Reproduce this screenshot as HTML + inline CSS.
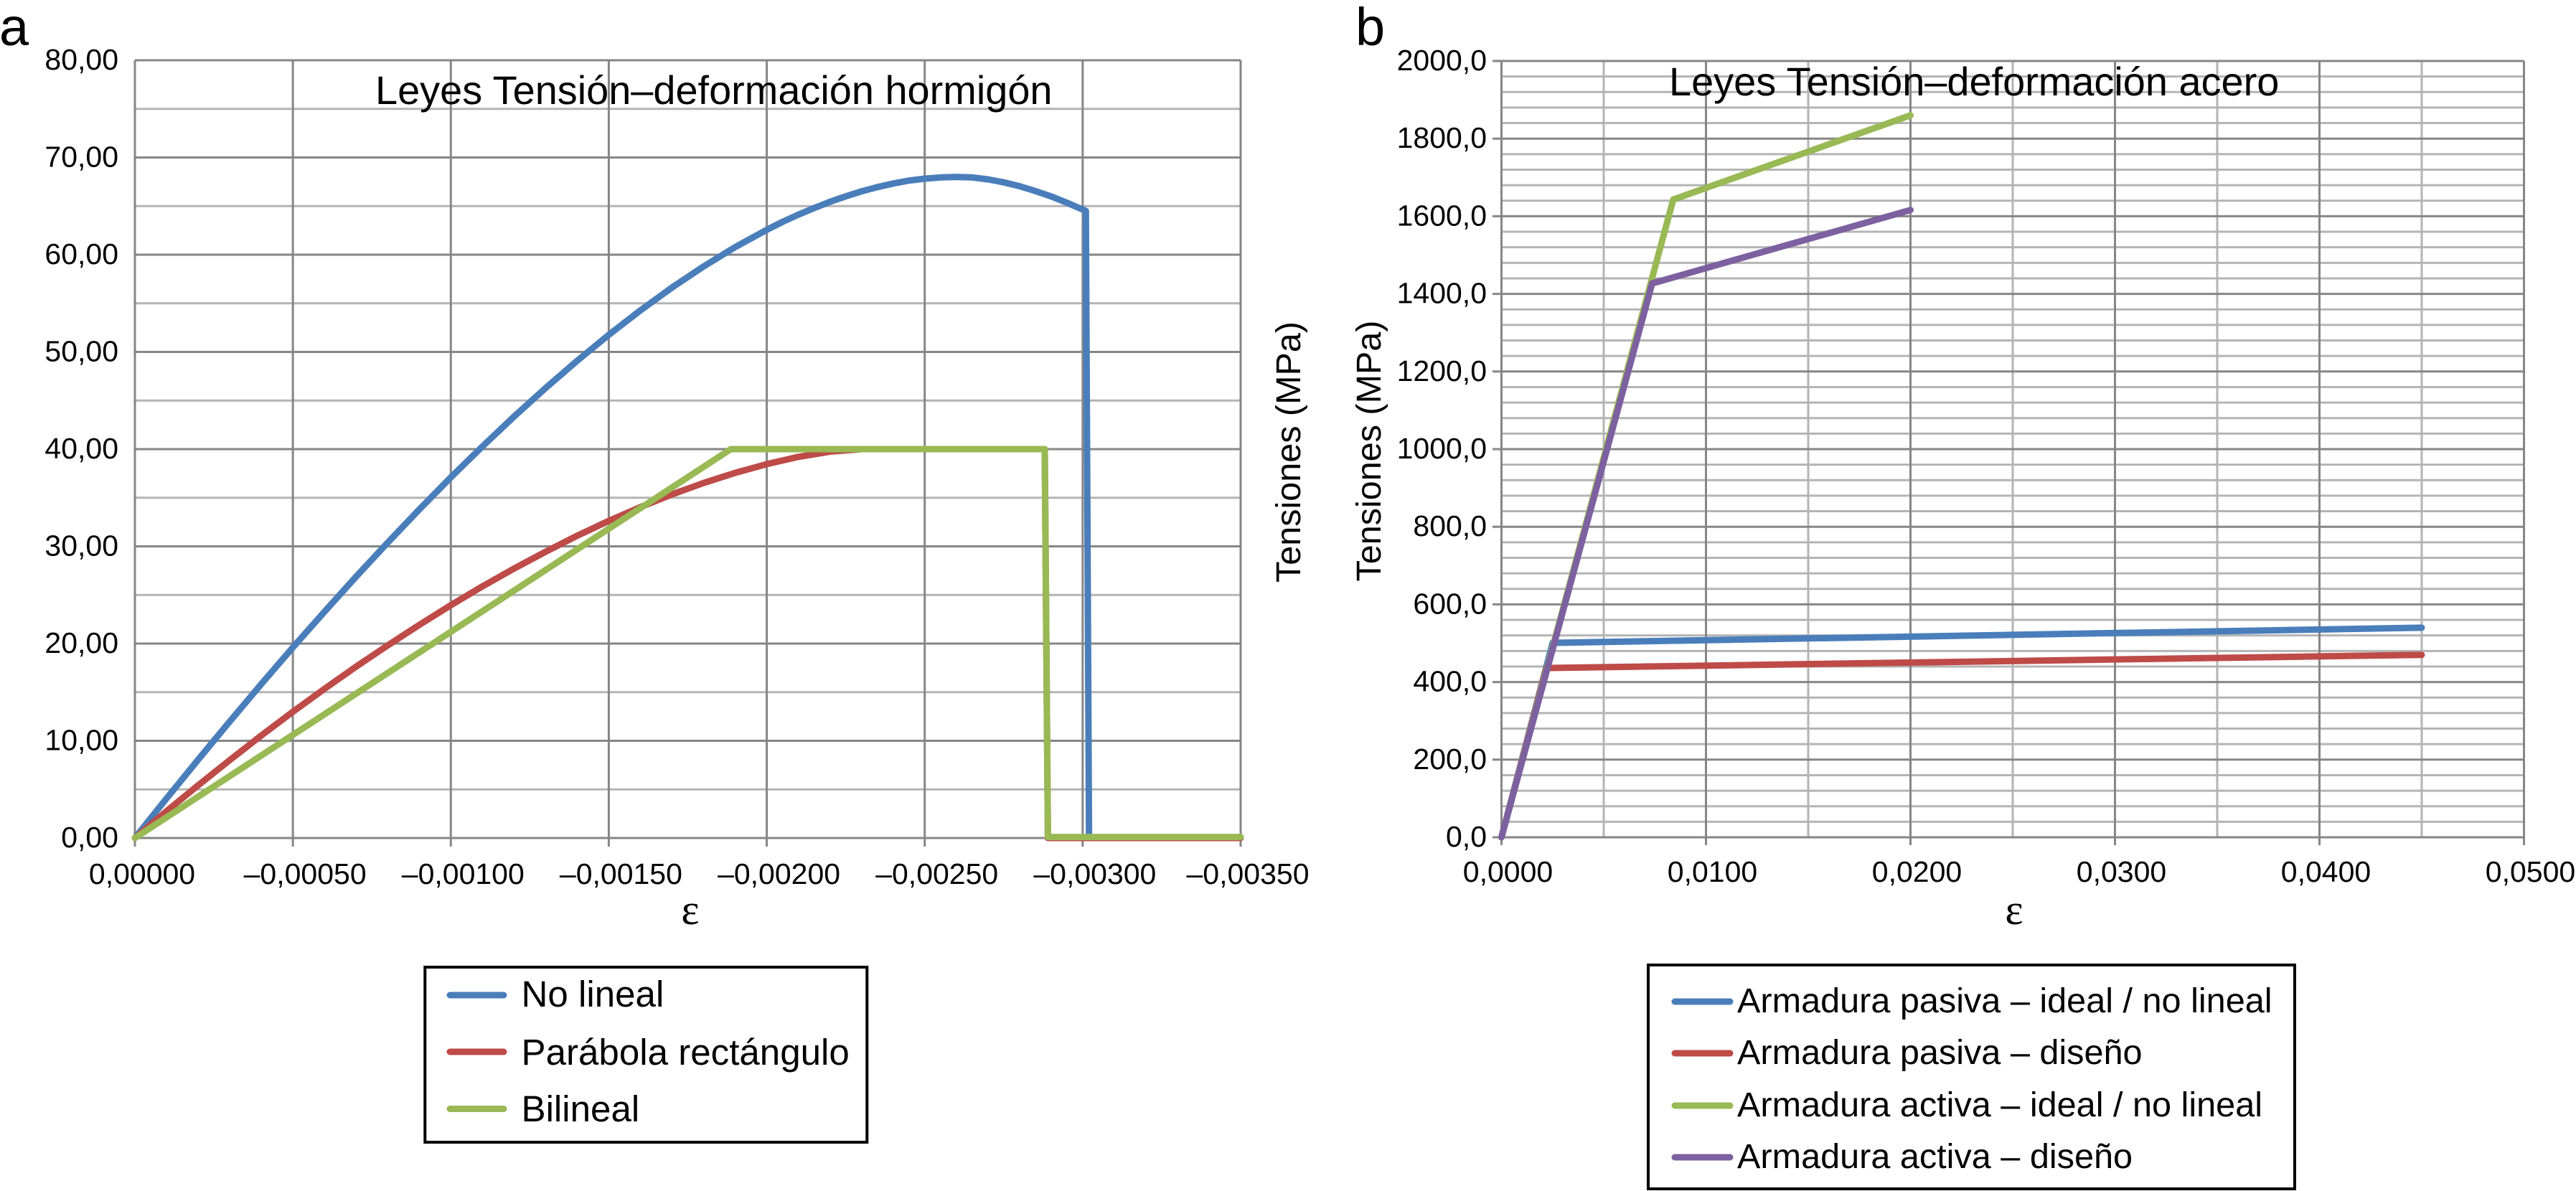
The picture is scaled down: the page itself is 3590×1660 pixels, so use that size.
<!DOCTYPE html>
<html lang="es">
<head>
<meta charset="utf-8">
<title>Leyes Tensión–deformación</title>
<style>
html,body{margin:0;padding:0;background:#fff;width:3590px;height:1660px;overflow:hidden}
svg{display:block;font-family:"Liberation Sans",Arial,sans-serif;fill:#000}
</style>
</head>
<body>
<svg id="figure" xmlns="http://www.w3.org/2000/svg" width="3590" height="1660" viewBox="0 0 3590 1660">
  <rect x="0" y="0" width="3590" height="1660" fill="#fff"/>
  <g id="chartA"></g>
  <g id="chartB"></g>

  <text x="-1" y="63" font-size="74">a</text>
  <text x="1889" y="63" font-size="74">b</text>

  <text x="523" y="145" font-size="55.9">Leyes Tensión–deformación hormigón</text>
  <text x="2326" y="133" font-size="55.9">Leyes Tensión–deformación acero</text>

  <text transform="translate(1812 630) rotate(-90)" text-anchor="middle" font-size="48.5">Tensiones (MPa)</text>
  <text transform="translate(1924 628.5) rotate(-90)" text-anchor="middle" font-size="48.5">Tensiones (MPa)</text>

  <text x="962" y="1288" text-anchor="middle" font-size="60" style="font-family:'Liberation Serif',serif">ε</text>
  <text x="2807" y="1288" text-anchor="middle" font-size="60" style="font-family:'Liberation Serif',serif">ε</text>

  <g>
    <rect x="592.3" y="1348" width="616" height="244" fill="#fff" stroke="#000" stroke-width="4"/>
    <line x1="627" x2="702" y1="1387" y2="1387" stroke="#4a7ebb" stroke-width="9" stroke-linecap="round"/>
    <text x="726.5" y="1403" font-size="51.1">No lineal</text>
    <line x1="627" x2="702" y1="1466" y2="1466" stroke="#be4b48" stroke-width="9" stroke-linecap="round"/>
    <text x="726.5" y="1484" font-size="51.1">Parábola rectángulo</text>
    <line x1="627" x2="702" y1="1545.5" y2="1545.5" stroke="#98b954" stroke-width="9" stroke-linecap="round"/>
    <text x="726.5" y="1563" font-size="51.1">Bilineal</text>
  </g>

  <g>
    <rect x="2297" y="1345" width="901" height="312" fill="#fff" stroke="#000" stroke-width="4"/>
    <line x1="2334" x2="2411" y1="1396" y2="1396" stroke="#4a7ebb" stroke-width="9" stroke-linecap="round"/>
    <text x="2421" y="1411" font-size="48.6">Armadura pasiva – ideal / no lineal</text>
    <line x1="2334" x2="2411" y1="1468" y2="1468" stroke="#be4b48" stroke-width="9" stroke-linecap="round"/>
    <text x="2421" y="1483" font-size="48.6">Armadura pasiva – diseño</text>
    <line x1="2334" x2="2411" y1="1541" y2="1541" stroke="#98b954" stroke-width="9" stroke-linecap="round"/>
    <text x="2421" y="1556" font-size="48.6">Armadura activa – ideal / no lineal</text>
    <line x1="2334" x2="2411" y1="1613" y2="1613" stroke="#7d60a0" stroke-width="9" stroke-linecap="round"/>
    <text x="2421" y="1628" font-size="48.6">Armadura activa – diseño</text>
  </g>
</svg>
<script>
/* Panel a: concrete */
const concreteXTicks = [0, -0.0005, -0.001, -0.0015, -0.002, -0.0025, -0.003, -0.0035];
const concreteXLabels = ['0,00000', '–0,00050', '–0,00100', '–0,00150', '–0,00200', '–0,00250', '–0,00300', '–0,00350'];
const concreteYTicks = [0, 10, 20, 30, 40, 50, 60, 70, 80];
const concreteYLabels = ['0,00', '10,00', '20,00', '30,00', '40,00', '50,00', '60,00', '70,00', '80,00'];
const concreteYMinor = [5, 15, 25, 35, 45, 55, 65, 75];

const noLinealX = [0, -0.0001, -0.0002, -0.0003, -0.0004, -0.0005, -0.0006, -0.0007, -0.0008, -0.0009, -0.001, -0.0011, -0.0012, -0.0013, -0.0014, -0.0015, -0.0016, -0.0017, -0.0018, -0.0019, -0.002, -0.00205, -0.0021, -0.00215, -0.0022, -0.00225, -0.0023, -0.00235, -0.0024, -0.00245, -0.0025, -0.00255, -0.0026, -0.00265, -0.0027, -0.00275, -0.0028, -0.00285, -0.0029, -0.00295, -0.00301, -0.00302];
const noLinealY = [0, 4.06, 8.05, 11.98, 15.83, 19.6, 23.28, 26.88, 30.38, 33.79, 37.1, 40.27, 43.34, 46.29, 49.09, 51.76, 54.27, 56.62, 58.79, 60.78, 62.56, 63.38, 64.12, 64.8, 65.44, 66, 66.52, 66.95, 67.32, 67.62, 67.82, 67.95, 68, 67.95, 67.75, 67.45, 67.05, 66.55, 66, 65.35, 64.5, 0];

const parabolaX = [0, -0.0001, -0.0002, -0.0003, -0.0004, -0.0005, -0.0006, -0.0007, -0.0008, -0.0009, -0.001, -0.0011, -0.0012, -0.0013, -0.0014, -0.0015, -0.0016, -0.0017, -0.0018, -0.0019, -0.002, -0.0021, -0.0022, -0.0023, -0.00288, -0.00289, -0.0035];
const parabolaY = [0, 2.75, 5.42, 8.01, 10.54, 12.98, 15.34, 17.62, 19.81, 21.92, 23.95, 25.88, 27.71, 29.45, 31.09, 32.62, 34.04, 35.34, 36.52, 37.56, 38.46, 39.2, 39.74, 40, 40, 0, 0];

const bilinealX = [0, -0.001886, -0.00288, -0.00289, -0.0035];
const bilinealY = [0, 40, 40, 0.1, 0.1];

/* Panel b: steel */
const steelXTicks = [0, 0.01, 0.02, 0.03, 0.04, 0.05];
const steelXLabels = ['0,0000', '0,0100', '0,0200', '0,0300', '0,0400', '0,0500'];
const steelXMinor = [0.005, 0.015, 0.025, 0.035, 0.045];
const steelYTicks = [0, 200, 400, 600, 800, 1000, 1200, 1400, 1600, 1800, 2000];
const steelYLabels = ['0,0', '200,0', '400,0', '600,0', '800,0', '1000,0', '1200,0', '1400,0', '1600,0', '1800,0', '2000,0'];
const steelYMinor = [40, 80, 120, 160, 240, 280, 320, 360, 440, 480, 520, 560, 640, 680, 720, 760, 840, 880, 920, 960, 1040, 1080, 1120, 1160, 1240, 1280, 1320, 1360, 1440, 1480, 1520, 1560, 1640, 1680, 1720, 1760, 1840, 1880, 1920, 1960];

const pasivaIdealX = [0, 0.0025, 0.045];
const pasivaIdealY = [0, 501, 540];
const pasivaDisenoX = [0, 0.0022, 0.045];
const pasivaDisenoY = [0, 436, 470];
const activaIdealX = [0, 0.0084, 0.02];
const activaIdealY = [0, 1643, 1860];
const activaDisenoX = [0, 0.00737, 0.02];
const activaDisenoY = [0, 1427, 1616];

const SVGNS = 'http://www.w3.org/2000/svg';
const MAJOR = '#868686', MINOR = '#b4b4b4';

function xA(v) { return 188 + (-v / 0.0035) * 1541; }
function yA(v) { return 1168 - (v / 80) * 1084; }
function xB(v) { return 2092.5 + (v / 0.05) * 1425; }
function yB(v) { return 1167 - (v / 2000) * 1082; }

function rule(parent, x1, y1, x2, y2, color) {
  const el = document.createElementNS(SVGNS, 'line');
  el.setAttribute('x1', x1);
  el.setAttribute('y1', y1);
  el.setAttribute('x2', x2);
  el.setAttribute('y2', y2);
  el.setAttribute('stroke', color);
  el.setAttribute('stroke-width', 3);
  parent.appendChild(el);
  return el;
}
function label(parent, x, y, str, anchor) {
  const el = document.createElementNS(SVGNS, 'text');
  el.setAttribute('x', x);
  el.setAttribute('y', y);
  el.setAttribute('font-size', 41);
  el.setAttribute('text-anchor', anchor);
  el.textContent = str;
  parent.appendChild(el);
  return el;
}
function series(parent, xs, ys, fx, fy, color) {
  const el = document.createElementNS(SVGNS, 'polyline');
  el.setAttribute('points', xs.map((v, i) => fx(v).toFixed(1) + ',' + fy(ys[i]).toFixed(1)).join(' '));
  el.setAttribute('fill', 'none');
  el.setAttribute('stroke', color);
  el.setAttribute('stroke-width', 9);
  el.setAttribute('stroke-linejoin', 'round');
  el.setAttribute('stroke-linecap', 'round');
  parent.appendChild(el);
  return el;
}

/* ---------- Chart A ---------- */
const gA = document.getElementById('chartA');
concreteYMinor.forEach(v => {
  const el = rule(gA, xA(0), yA(v), xA(-0.0035), yA(v), MINOR);
  
  
});
concreteYTicks.forEach((v, i) => {
  const el = rule(gA, xA(0), yA(v), xA(-0.0035), yA(v), MAJOR);
  
  
  const t = label(gA, 165, yA(v) + 13, concreteYLabels[i], 'end');
  
  
});
concreteXTicks.forEach((v, i) => {
  const el = rule(gA, xA(v), yA(80), xA(v), 1180, MAJOR);
  
  
  const shift = (i === 0 || i === concreteXTicks.length - 1) ? 10 : 17;
  const t = label(gA, xA(v) + shift, 1232, concreteXLabels[i], 'middle');
  
  
});
const sNoLineal = series(gA, noLinealX, noLinealY, xA, yA, '#4a7ebb');


const sParabola = series(gA, parabolaX, parabolaY, xA, yA, '#be4b48');


const sBilineal = series(gA, bilinealX, bilinealY, xA, yA, '#98b954');



/* ---------- Chart B ---------- */
const gB = document.getElementById('chartB');
steelYMinor.forEach(v => {
  const el = rule(gB, xB(0), yB(v), xB(0.05), yB(v), MINOR);
  
  
});
steelXMinor.forEach(v => {
  const el = rule(gB, xB(v), yB(2000), xB(v), yB(0), MINOR);
  
  
});
steelYTicks.forEach((v, i) => {
  const el = rule(gB, 2080, yB(v), xB(0.05), yB(v), MAJOR);
  
  
  const t = label(gB, 2072, yB(v) + 13, steelYLabels[i], 'end');
  
  
});
steelXTicks.forEach((v, i) => {
  const el = rule(gB, xB(v), yB(2000), xB(v), 1178, MAJOR);
  
  
  const t = label(gB, xB(v) + 9, 1229, steelXLabels[i], 'middle');
  
  
});
const sPasivaIdeal = series(gB, pasivaIdealX, pasivaIdealY, xB, yB, '#4a7ebb');


const sPasivaDiseno = series(gB, pasivaDisenoX, pasivaDisenoY, xB, yB, '#be4b48');


const sActivaIdeal = series(gB, activaIdealX, activaIdealY, xB, yB, '#98b954');


const sActivaDiseno = series(gB, activaDisenoX, activaDisenoY, xB, yB, '#7d60a0');


</script>
</body>
</html>
